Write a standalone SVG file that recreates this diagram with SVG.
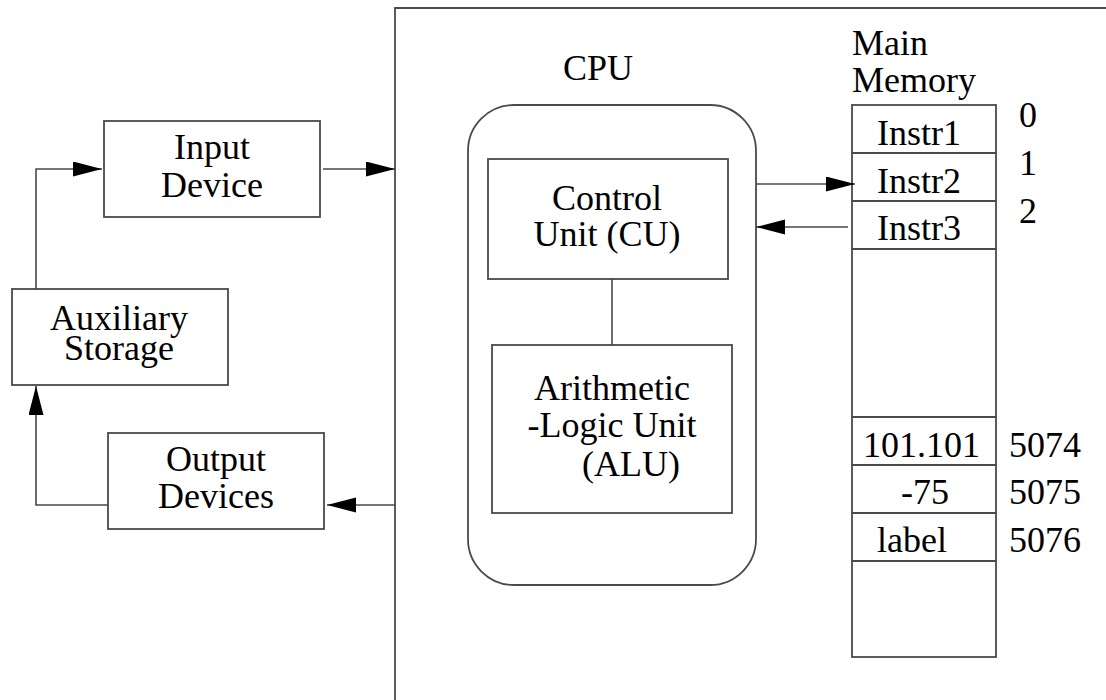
<svg xmlns="http://www.w3.org/2000/svg" width="1106" height="700" viewBox="0 0 1106 700">
  <defs>
    <marker id="arrow" markerUnits="userSpaceOnUse" markerWidth="30" markerHeight="16" refX="29" refY="7.5" orient="auto">
      <path d="M0,0 L29,7.5 L0,15 z" fill="#000"/>
    </marker>
    <style>
      .box { fill: none; stroke: #4a4a4a; stroke-width: 1.8; }
      .wire { fill: none; stroke: #4a4a4a; stroke-width: 1.6; }
      .arr { marker-end: url(#arrow); }
      text { font-family: "Liberation Serif", "Times New Roman", serif; font-size: 36px; fill: #000; }
      .c { text-anchor: middle; }
    </style>
  </defs>
  <rect width="1106" height="700" fill="#fff"/>

  <!-- computer enclosure (open to the right and bottom) -->
  <g id="cpu-enclosure">
    <path class="box" d="M1110,8 H395 V705"/>
    <text class="c" x="598" y="80">CPU</text>
  </g>

  <g id="input-device">
    <rect class="box" x="104" y="121" width="216" height="96"/>
    <text class="c" x="212" y="159">Input</text>
    <text class="c" x="212" y="197">Device</text>
  </g>

  <g id="auxiliary-storage">
    <rect class="box" x="12" y="289" width="216" height="96"/>
    <text class="c" x="119" y="330">Auxiliary</text>
    <text class="c" x="119" y="360">Storage</text>
  </g>

  <g id="output-devices">
    <rect class="box" x="108" y="433" width="216" height="96"/>
    <text class="c" x="216" y="471">Output</text>
    <text class="c" x="216" y="508">Devices</text>
  </g>

  <g id="processor">
    <rect class="box" x="468" y="105" width="288" height="480" rx="46" ry="46"/>
  </g>

  <g id="control-unit">
    <rect class="box" x="488" y="159" width="240" height="120"/>
    <text class="c" x="607" y="210">Control</text>
    <text class="c" x="607" y="246">Unit (CU)</text>
  </g>

  <g id="alu">
    <rect class="box" x="492" y="345" width="240" height="168"/>
    <text class="c" x="612" y="400">Arithmetic</text>
    <text class="c" x="612" y="437">-Logic Unit</text>
    <text class="c" x="631" y="476">(ALU)</text>
  </g>

  <g id="main-memory">
    <text x="852" y="55">Main</text>
    <text x="852" y="92">Memory</text>
    <rect class="box" x="852" y="105" width="144" height="552"/>
    <path class="box" d="M852,153 H996 M852,201 H996 M852,249 H996 M852,417 H996 M852,465 H996 M852,513 H996 M852,561 H996"/>
    <text x="877" y="145">Instr1</text>
    <text x="877" y="193">Instr2</text>
    <text x="877" y="240">Instr3</text>
    <text x="1019" y="127">0</text>
    <text x="1019" y="175">1</text>
    <text x="1019" y="223">2</text>
    <text x="863" y="457">101.101</text>
    <text x="901" y="504">-75</text>
    <text x="877" y="552">label</text>
    <text x="1009" y="457">5074</text>
    <text x="1009" y="504">5075</text>
    <text x="1009" y="552">5076</text>
  </g>

  <g id="connectors">
    <path class="wire arr" d="M36,289 V169 H102"/>
    <path class="wire arr" d="M323,169 H395"/>
    <path class="wire arr" d="M395,505 H327"/>
    <path class="wire arr" d="M108,505 H36 V386"/>
    <path class="wire" d="M612,279 V345"/>
    <path class="wire arr" d="M756,184 H855"/>
    <path class="wire arr" d="M848,227 H756"/>
  </g>
</svg>
